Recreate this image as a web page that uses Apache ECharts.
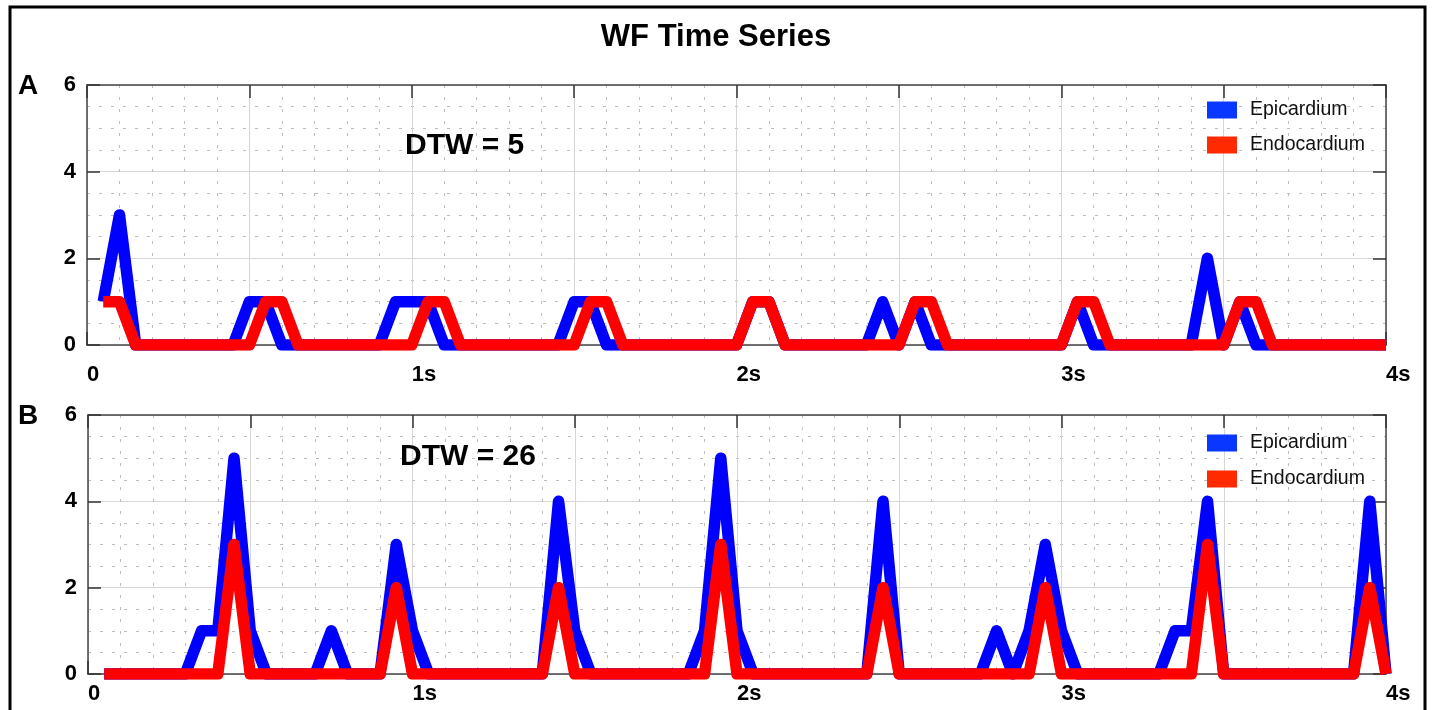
<!DOCTYPE html>
<html>
<head>
<meta charset="utf-8">
<title>WF Time Series</title>
<script src="https://cdn.jsdelivr.net/npm/echarts@6/dist/echarts.min.js"></script>
<style>
  html, body { margin: 0; padding: 0; background: #fff; }
  #main { width: 1434px; height: 710px; }
</style>
</head>
<body>
<div id="main"></div>
<script>
// sample times (s), one sample every 50 ms
var times = [
    0.05, 0.1, 0.15, 0.2, 0.25, 0.3, 0.35, 0.4, 0.45, 0.5,
    0.55, 0.6, 0.65, 0.7, 0.75, 0.8, 0.85, 0.9, 0.95, 1,
    1.05, 1.1, 1.15, 1.2, 1.25, 1.3, 1.35, 1.4, 1.45, 1.5,
    1.55, 1.6, 1.65, 1.7, 1.75, 1.8, 1.85, 1.9, 1.95, 2,
    2.05, 2.1, 2.15, 2.2, 2.25, 2.3, 2.35, 2.4, 2.45, 2.5,
    2.55, 2.6, 2.65, 2.7, 2.75, 2.8, 2.85, 2.9, 2.95, 3,
    3.05, 3.1, 3.15, 3.2, 3.25, 3.3, 3.35, 3.4, 3.45, 3.5,
    3.55, 3.6, 3.65, 3.7, 3.75, 3.8, 3.85, 3.9, 3.95, 4
];

// panel A
var epiA = [
    1, 3, 0, 0, 0, 0, 0, 0, 0, 1,
    1, 0, 0, 0, 0, 0, 0, 0, 1, 1,
    1, 0, 0, 0, 0, 0, 0, 0, 0, 1,
    1, 0, 0, 0, 0, 0, 0, 0, 0, 0,
    1, 1, 0, 0, 0, 0, 0, 0, 1, 0,
    1, 0, 0, 0, 0, 0, 0, 0, 0, 0,
    1, 0, 0, 0, 0, 0, 0, 0, 2, 0,
    1, 0, 0, 0, 0, 0, 0, 0, 0, 0
];
var endoA = [
    1, 1, 0, 0, 0, 0, 0, 0, 0, 0,
    1, 1, 0, 0, 0, 0, 0, 0, 0, 0,
    1, 1, 0, 0, 0, 0, 0, 0, 0, 0,
    1, 1, 0, 0, 0, 0, 0, 0, 0, 0,
    1, 1, 0, 0, 0, 0, 0, 0, 0, 0,
    1, 1, 0, 0, 0, 0, 0, 0, 0, 0,
    1, 1, 0, 0, 0, 0, 0, 0, 0, 0,
    1, 1, 0, 0, 0, 0, 0, 0, 0, 0
];

// panel B
var epiB = [
    0, 0, 0, 0, 0, 0, 1, 1, 5, 1,
    0, 0, 0, 0, 1, 0, 0, 0, 3, 1,
    0, 0, 0, 0, 0, 0, 0, 0, 4, 1,
    0, 0, 0, 0, 0, 0, 0, 1, 5, 1,
    0, 0, 0, 0, 0, 0, 0, 0, 4, 0,
    0, 0, 0, 0, 0, 1, 0, 1, 3, 1,
    0, 0, 0, 0, 0, 0, 1, 1, 4, 0,
    0, 0, 0, 0, 0, 0, 0, 0, 4, 0
];
var endoB = [
    0, 0, 0, 0, 0, 0, 0, 0, 3, 0,
    0, 0, 0, 0, 0, 0, 0, 0, 2, 0,
    0, 0, 0, 0, 0, 0, 0, 0, 2, 0,
    0, 0, 0, 0, 0, 0, 0, 0, 3, 0,
    0, 0, 0, 0, 0, 0, 0, 0, 2, 0,
    0, 0, 0, 0, 0, 0, 0, 0, 2, 0,
    0, 0, 0, 0, 0, 0, 0, 0, 3, 0,
    0, 0, 0, 0, 0, 0, 0, 0, 2, 0
];

var dtwLabels = ['DTW = 5', 'DTW = 26'];
var panelLetters = ['A', 'B'];
var seriesNames = ['Epicardium', 'Endocardium'];

var FONT = '"Liberation Sans", Arial, Helvetica, sans-serif';
var BLUE = '#0000ff', RED = '#ff0000';

var myChart = echarts.init(document.getElementById('main'));

function pairs(vals) {
    return times.map(function (t, i) { return [t, vals[i]]; });
}

function xLabel(v) {
    if (v === 0) return '0';
    if (Math.abs(v - Math.round(v)) < 1e-6) return Math.round(v) + 's';
    return '';
}

var axisLineStyle = { color: '#444', width: 1.5 };
var tickStyle = { show: true, inside: true, length: 13, lineStyle: { color: '#333', width: 1.5 } };
var majorGrid = { show: true, lineStyle: { color: '#d6d6d6', width: 1 } };
var minorGrid = { show: true, lineStyle: { color: '#bdbdbd', width: 1, type: [3, 9] } };

function bottomX(grid, margin) {
    return {
        gridIndex: grid, type: 'value', position: 'bottom',
        min: 0, max: 4, interval: 0.5,
        axisLine: { show: true, onZero: false, lineStyle: axisLineStyle },
        axisTick: tickStyle,
        axisLabel: {
            show: true, formatter: xLabel, align: 'left', margin: margin,
            showMinLabel: true, showMaxLabel: true,
            color: '#000', fontSize: 22, fontWeight: 'bold', fontFamily: FONT
        },
        splitLine: majorGrid,
        minorTick: { show: false, splitNumber: 5 },
        minorSplitLine: minorGrid
    };
}
function topX(grid) {
    return {
        gridIndex: grid, type: 'value', position: 'top',
        min: 0, max: 4, interval: 0.5,
        axisLine: { show: true, onZero: false, lineStyle: axisLineStyle },
        axisTick: tickStyle,
        axisLabel: { show: false },
        splitLine: { show: false }
    };
}
function leftY(grid) {
    return {
        gridIndex: grid, type: 'value', position: 'left',
        min: 0, max: 6, interval: 2,
        axisLine: { show: true, onZero: false, lineStyle: axisLineStyle },
        axisTick: tickStyle,
        axisLabel: {
            show: true, margin: 11, color: '#000',
            fontSize: 22, fontWeight: 'bold', fontFamily: FONT
        },
        splitLine: majorGrid,
        minorTick: { show: false, splitNumber: 4 },
        minorSplitLine: minorGrid
    };
}
function rightY(grid) {
    return {
        gridIndex: grid, type: 'value', position: 'right',
        min: 0, max: 6, interval: 2,
        axisLine: { show: true, onZero: false, lineStyle: axisLineStyle },
        axisTick: tickStyle,
        axisLabel: { show: false },
        splitLine: { show: false }
    };
}

function lineSeries(name, vals, color, xi, yi) {
    return {
        name: name, type: 'line',
        xAxisIndex: xi, yAxisIndex: yi,
        data: pairs(vals),
        showSymbol: false, symbol: 'none',
        lineStyle: { color: color, width: 11.5, join: 'round', cap: 'butt' },
        itemStyle: { color: color },
        emphasis: { disabled: true },
        animation: false
    };
}

function legendFor(top, gap) {
    return {
        orient: 'vertical', left: 1207, top: top, padding: 0,
        itemWidth: 30, itemHeight: 17, itemGap: gap,
        icon: 'rect', selectedMode: false,
        textStyle: { fontSize: 19.5, color: '#111', fontFamily: FONT, padding: [0, 0, 0, 8] },
        data: [
            { name: seriesNames[0], itemStyle: { color: '#0a37ff' } },
            { name: seriesNames[1], itemStyle: { color: '#ff2a00' } }
        ]
    };
}

function txt(x, y, text, size, weight, align) {
    return {
        type: 'text', x: x, y: y, z: 100,
        style: {
            text: text, fill: '#000', fontSize: size, fontWeight: weight,
            fontFamily: FONT, align: align || 'left', verticalAlign: 'middle'
        }
    };
}

var option = {
    animation: false,
    backgroundColor: '#fff',
    grid: [
        { left: 87, right: 48, top: 85, height: 260 },
        { left: 88, right: 48, top: 415, height: 259 }
    ],
    xAxis: [bottomX(0, 19), topX(0), bottomX(1, 9), topX(1)],
    yAxis: [leftY(0), rightY(0), leftY(1), rightY(1)],
    legend: [legendFor(100, 15), legendFor(433, 16)],
    series: [
        lineSeries(seriesNames[0], epiA, BLUE, 0, 0),
        lineSeries(seriesNames[1], endoA, RED, 0, 0),
        lineSeries(seriesNames[0], epiB, BLUE, 2, 2),
        lineSeries(seriesNames[1], endoB, RED, 2, 2)
    ],
    graphic: [
        {
            type: 'rect', z: 100,
            shape: { x: 10, y: 7, width: 1415, height: 730 },
            style: { fill: 'none', stroke: '#000', lineWidth: 3 }
        },
        txt(716, 37, 'WF Time Series', 31, 'bold', 'center'),
        txt(18, 86, panelLetters[0], 28, 'bold'),
        txt(18, 416, panelLetters[1], 28, 'bold'),
        txt(405, 146, dtwLabels[0], 30, 'bold'),
        txt(400, 457, dtwLabels[1], 30, 'bold')
    ]
};

myChart.setOption(option);
</script>
</body>
</html>
